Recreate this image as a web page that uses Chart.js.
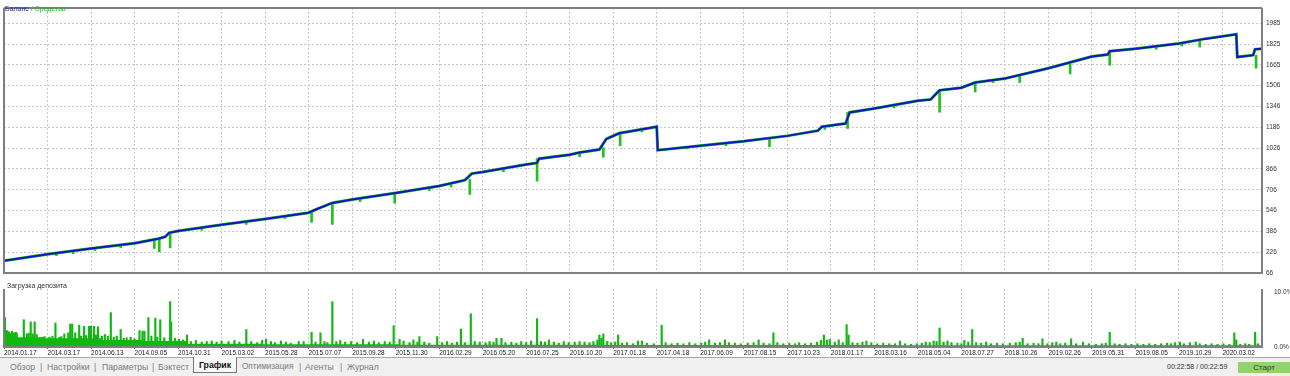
<!DOCTYPE html>
<html>
<head>
<meta charset="utf-8">
<title>Баланс / Средства</title>
<script src="https://cdn.jsdelivr.net/npm/chart.js@4.4.1/dist/chart.umd.min.js"></script>
<style>
  body { margin: 0; width: 1290px; height: 376px; background: #fff; position: relative; overflow: hidden;
         font-family: "Liberation Sans", Arial, sans-serif; }
  #balanceChart { position: absolute; left: 0; top: 0; }
  #loadChart { position: absolute; left: 0; top: 281px; }
  .caption { position: absolute; font-size: 7px; line-height: 8px; white-space: nowrap; }
  #tabs { position: absolute; left: 0; top: 357px; width: 1290px; height: 19px; background: #f0f0f0;
          border-top: 1px solid #a8a8a8; font-size: 8.7px; color: #7a7a7a; }
  #tabs span, #tabs div { position: absolute; top: 0; line-height: 18px; white-space: nowrap; }
  #tabs .active { top: -1px; height: 15px; line-height: 17px; width: 42px; text-align: center; background: #f8f8f8;
                  border: 1px solid #777; border-top: none; color: #111; font-weight: bold; }
  #tabs .clock { left: 1167px; font-size: 7px; color: #333; }
  #tabs .start { left: 1238px; top: 4px; width: 52px; height: 11px; line-height: 11px; text-align: center;
                 background: #92d46c; color: #333; font-size: 8px; }
</style>
</head>
<body>
<canvas id="balanceChart" width="1290" height="281"></canvas>
<canvas id="loadChart" width="1290" height="77"></canvas>
<div class="caption" style="left:5px;top:5px"><span style="color:#2525b8">Баланс</span><span style="color:#22b822"> / Средства</span></div>
<div class="caption" style="left:7px;top:282px;color:#333">Загрузка депозита</div>
<div id="tabs">
  <span style="left:10px">Обзор</span>
  <span style="left:40px">|</span>
  <span style="left:47px">Настройки</span>
  <span style="left:94px">|</span>
  <span style="left:102px">Параметры</span>
  <span style="left:152px">|</span>
  <span style="left:158px">Бэктест</span>
  <div class="active" style="left:193px">График</div>
  <span style="left:242px;font-size:8.2px">Оптимизация</span>
  <span style="left:299px">|</span>
  <span style="left:305px">Агенты</span>
  <span style="left:340px">|</span>
  <span style="left:347px">Журнал</span>
  <span class="clock">00:22:58 / 00:22:59</span>
  <div class="start">Старт</div>
</div>
<script>
// date labels under the chart, one every 44 deals
const dateLabels = ['2014.01.17', '2014.03.17', '2014.06.13', '2014.09.05', '2014.10.31', '2015.03.02',
  '2015.05.28', '2015.07.07', '2015.09.28', '2015.11.30', '2016.02.29', '2016.05.20', '2016.07.25',
  '2016.10.20', '2017.01.18', '2017.04.18', '2017.06.09', '2017.08.15', '2017.10.23', '2018.01.17',
  '2018.03.16', '2018.05.04', '2018.07.27', '2018.10.26', '2019.02.26', '2019.05.31', '2019.08.05',
  '2019.10.29', '2020.03.02'];
const dealsPerLabel = 44;
const lastDeal = 1272;

const balanceTicks = [66, 226, 386, 546, 706, 866, 1026, 1186, 1346, 1506, 1665, 1825, 1985];
const loadTicks = [0, 10];

// [deal, balance]
const balancePoints = [[0, 160], [44, 210], [88, 255], [132, 295], [156, 330], [163, 345], [167, 375],
  [176, 390], [220, 437], [264, 482], [308, 530], [317, 560], [332, 605], [352, 632], [396, 682],
  [440, 735], [466, 780], [473, 830], [484, 842], [528, 900], [539, 912], [541, 945], [572, 975],
  [582, 993], [602, 1015], [609, 1096], [622, 1140], [660, 1190], [661, 1010], [704, 1045],
  [748, 1078], [792, 1120], [823, 1160], [827, 1190], [851, 1215], [855, 1300], [880, 1330],
  [924, 1390], [937, 1400], [942, 1440], [946, 1470], [968, 1490], [982, 1530], [1012, 1560],
  [1056, 1640], [1100, 1730], [1116, 1745], [1118, 1770], [1144, 1790], [1188, 1830], [1214, 1865],
  [1246, 1900], [1247, 1725], [1263, 1740], [1265, 1785], [1272, 1790]];

// equity drops below balance: [deal, low, high]
const equityDips = [[53, 200, 215], [70, 215, 232], [92, 240, 258], [118, 262, 282], [152, 255, 320],
  [157, 230, 330], [168, 260, 378], [200, 395, 415], [245, 440, 470], [284, 485, 502], [311, 456, 535],
  [332, 440, 605], [360, 615, 640], [395, 603, 680], [430, 700, 728], [452, 728, 752], [471, 670, 785],
  [505, 845, 870], [539, 772, 945], [582, 960, 990], [606, 956, 1030], [623, 1044, 1135],
  [645, 1150, 1175], [690, 1020, 1036], [730, 1045, 1064], [774, 1037, 1095], [830, 1169, 1190],
  [853, 1177, 1300], [900, 1335, 1360], [946, 1302, 1470], [982, 1456, 1530], [1000, 1528, 1548],
  [1027, 1530, 1590], [1078, 1596, 1670], [1118, 1662, 1760], [1165, 1785, 1808], [1191, 1810, 1835],
  [1209, 1802, 1860], [1266, 1640, 1740]];

// deposit load, % : [deal, load]
const loadBars = [[1, 5.4], [3, 3.0], [5, 2.8], [8, 2.9], [10, 2.6], [12, 2.7], [20, 5.0], [23, 2.4],
  [25, 2.5], [27, 4.6], [29, 2.4], [31, 4.6], [33, 2.3], [39, 1.8], [41, 1.9], [46, 1.8], [49, 2.0],
  [52, 4.4], [56, 1.8], [58, 1.9], [61, 2.4], [65, 2.6], [67, 4.2], [69, 4.2], [72, 2.6], [76, 4.0],
  [78, 2.0], [81, 3.8], [83, 2.1], [86, 3.8], [88, 3.8], [91, 3.8], [93, 2.2], [95, 3.7], [99, 2.0],
  [102, 2.3], [105, 2.0], [108, 6.3], [111, 1.8], [114, 2.0], [118, 3.2], [121, 1.6], [124, 1.7],
  [128, 1.8], [132, 1.5], [137, 3.0], [140, 2.9], [142, 2.9], [146, 5.4], [149, 2.0], [153, 5.3],
  [155, 1.8], [158, 5.0], [162, 1.7], [168, 8.3], [169, 4.6], [173, 1.6], [177, 1.4], [181, 1.3],
  [185, 2.2], [189, 1.0], [194, 1.2], [200, 0.9], [205, 1.0], [210, 1.1], [215, 0.9], [220, 1.1],
  [227, 1.0], [233, 1.2], [238, 0.9], [245, 3.2], [250, 1.0], [256, 0.8], [261, 1.2], [265, 1.4],
  [270, 1.0], [274, 0.8], [280, 1.1], [285, 0.9], [290, 0.7], [298, 1.0], [303, 1.0], [311, 2.7],
  [315, 0.9], [320, 2.6], [324, 1.0], [327, 0.8], [332, 8.3], [336, 1.0], [340, 1.2], [345, 0.9],
  [351, 1.0], [357, 0.8], [363, 1.4], [369, 0.9], [374, 1.1], [379, 0.8], [385, 1.0], [390, 0.9],
  [394, 3.9], [400, 1.4], [404, 1.1], [410, 0.8], [414, 1.3], [418, 0.9], [420, 1.9], [425, 0.9],
  [430, 0.7], [438, 1.9], [443, 0.8], [448, 1.0], [453, 0.7], [458, 0.9], [462, 3.3], [466, 0.8],
  [472, 6.1], [476, 1.0], [481, 0.9], [487, 0.8], [491, 1.0], [495, 0.9], [498, 1.6], [503, 1.6],
  [507, 0.8], [513, 0.9], [518, 0.7], [523, 1.0], [528, 0.8], [533, 1.1], [539, 5.2], [543, 1.0],
  [547, 0.9], [551, 1.3], [556, 0.9], [561, 0.7], [566, 1.0], [571, 0.8], [577, 0.9], [582, 1.0],
  [587, 0.9], [592, 0.8], [596, 1.0], [600, 1.3], [602, 2.2], [604, 1.6], [606, 2.4], [610, 1.0],
  [614, 0.8], [618, 0.9], [621, 2.2], [625, 0.7], [630, 0.8], [636, 0.6], [641, 1.1], [645, 1.1],
  [650, 0.7], [657, 0.6], [665, 4.0], [669, 0.8], [675, 0.6], [681, 0.7], [687, 0.6], [693, 0.8],
  [699, 0.6], [705, 0.7], [709, 0.9], [713, 1.3], [719, 0.7], [724, 0.8], [729, 1.3], [733, 0.8],
  [739, 0.7], [745, 0.6], [752, 0.7], [758, 0.8], [763, 1.3], [768, 0.7], [774, 0.6], [778, 2.6],
  [782, 0.8], [788, 0.6], [794, 0.7], [800, 0.6], [804, 0.8], [810, 0.6], [816, 0.7], [822, 0.9],
  [826, 1.2], [829, 2.2], [832, 1.3], [835, 1.4], [840, 0.9], [844, 1.3], [848, 0.8], [852, 4.1],
  [854, 2.2], [858, 0.8], [863, 0.7], [868, 0.9], [872, 1.1], [877, 0.8], [883, 0.6], [889, 0.7],
  [895, 0.6], [901, 0.6], [906, 1.1], [911, 0.6], [917, 0.5], [923, 0.6], [928, 0.7], [932, 0.9],
  [936, 0.8], [940, 1.1], [943, 1.0], [946, 3.5], [950, 0.9], [954, 1.1], [958, 0.8], [964, 0.7],
  [968, 0.6], [971, 1.2], [975, 0.9], [979, 3.2], [983, 0.8], [988, 0.7], [993, 0.9], [998, 0.6],
  [1004, 0.7], [1010, 0.6], [1017, 0.7], [1023, 0.8], [1027, 0.9], [1030, 1.6], [1035, 0.6],
  [1041, 0.7], [1046, 0.6], [1050, 1.5], [1055, 0.6], [1060, 0.8], [1064, 0.9], [1068, 0.6],
  [1073, 0.7], [1079, 1.5], [1084, 0.6], [1091, 0.9], [1097, 0.6], [1104, 0.5], [1110, 0.6],
  [1114, 0.7], [1118, 2.7], [1123, 0.6], [1128, 0.5], [1134, 0.6], [1140, 0.5], [1146, 0.6],
  [1152, 0.5], [1158, 0.6], [1164, 0.5], [1170, 0.6], [1176, 0.7], [1180, 0.6], [1184, 0.8],
  [1189, 0.9], [1193, 0.6], [1199, 0.8], [1205, 0.9], [1209, 0.6], [1215, 0.5], [1221, 0.6],
  [1227, 0.5], [1233, 0.6], [1239, 0.5], [1244, 2.6], [1246, 1.3], [1250, 0.5], [1255, 0.6],
  [1259, 0.5], [1265, 2.7], [1268, 0.6]];

// solid floor of the load histogram: [deal, load]
const loadBase = [[0, 2.5], [14, 1.8], [40, 1.6], [100, 1.3], [140, 1.1], [185, 0.6], [260, 0.5],
  [400, 0.4], [600, 0.35], [900, 0.3], [1272, 0.3]];

const fontFamily = '"Liberation Sans", Arial, sans-serif';
const gridColor = '#c8c8c8';
const green = '#22c022';

const frame = {
  id: 'frame',
  afterDraw(chart, args, opts) {
    const { ctx, chartArea: a } = chart;
    ctx.save();
    ctx.strokeStyle = '#7f7f7f';
    ctx.lineWidth = 2;
    ctx.beginPath();
    if (opts.top) {
      ctx.moveTo(a.left, a.top);
      ctx.lineTo(a.right, a.top);
    }
    ctx.moveTo(a.left, a.top);
    ctx.lineTo(a.left, a.bottom);
    ctx.lineTo(a.right, a.bottom);
    ctx.lineTo(a.right, a.top);
    ctx.stroke();
    ctx.restore();
  }
};

function dealAxis(showLabels, height) {
  return {
    type: 'linear',
    min: 0,
    max: lastDeal,
    offset: false,
    afterBuildTicks: function(scale) {
      scale.ticks = dateLabels.map((d, i) => ({ value: i * dealsPerLabel }));
    },
    afterFit: function(scale) {
      scale.height = height;
    },
    ticks: {
      display: showLabels,
      autoSkip: false,
      maxRotation: 0,
      align: 'start',
      padding: 0,
      color: '#222',
      font: { family: fontFamily, size: 6.5 },
      callback: function(value, index) {
        return dateLabels[index];
      }
    },
    grid: { color: gridColor, offset: false, drawTicks: showLabels, tickLength: 2, tickColor: '#666' },
    border: { display: false, dash: [2, 2] }
  };
}

new Chart(document.getElementById('balanceChart'), {
  type: 'line',
  data: {
    datasets: [
      {
        label: 'Баланс',
        data: balancePoints.map(p => ({ x: p[0], y: p[1] })),
        borderColor: '#1414c4',
        borderWidth: 2,
        pointRadius: 0,
        order: 0
      },
      {
        type: 'bar',
        label: 'Средства',
        data: equityDips.map(p => ({ x: p[0], y: [p[1], p[2]] })),
        backgroundColor: green,
        barThickness: 2,
        order: 1
      },
      {
        label: 'Средства',
        data: balancePoints.map(p => ({ x: p[0], y: p[1] })),
        borderColor: green,
        borderWidth: 3,
        pointRadius: 0,
        order: 2
      }
    ]
  },
  options: {
    responsive: false,
    animation: false,
    devicePixelRatio: 1,
    layout: { padding: { left: 4, top: 2, right: 0, bottom: 0 } },
    plugins: { legend: { display: false }, tooltip: { enabled: false }, frame: { top: true } },
    scales: {
      x: dealAxis(false, 2),
      y: {
        type: 'linear',
        position: 'right',
        min: 66,
        max: 2103,
        afterBuildTicks: function(scale) {
          scale.ticks = balanceTicks.map(v => ({ value: v }));
        },
        afterFit: function(scale) {
          scale.width = 28;
        },
        ticks: {
          autoSkip: false,
          padding: 4,
          color: '#333',
          font: { family: fontFamily, size: 6.5 },
          callback: v => String(v)
        },
        grid: { color: gridColor, drawTicks: false },
        border: { display: false, dash: [2, 2] }
      }
    }
  },
  plugins: [frame]
});

new Chart(document.getElementById('loadChart'), {
  type: 'bar',
  data: {
    datasets: [
      {
        label: 'Загрузка депозита',
        data: loadBars.map(p => ({ x: p[0], y: p[1] })),
        backgroundColor: '#10b810',
        barThickness: 1.5,
        order: 0
      },
      {
        type: 'line',
        label: 'Загрузка депозита',
        data: loadBase.map(p => ({ x: p[0], y: p[1] })),
        stepped: true,
        fill: 'origin',
        backgroundColor: '#10b810',
        borderWidth: 0,
        pointRadius: 0,
        order: 1
      }
    ]
  },
  options: {
    responsive: false,
    animation: false,
    devicePixelRatio: 1,
    layout: { padding: { left: 4, top: 0, right: 0, bottom: 0 } },
    plugins: { legend: { display: false }, tooltip: { enabled: false }, frame: { top: false } },
    scales: {
      x: dealAxis(true, 11),
      y: {
        type: 'linear',
        position: 'right',
        min: 0,
        max: 10.65,
        afterBuildTicks: function(scale) {
          scale.ticks = loadTicks.map(v => ({ value: v }));
        },
        afterFit: function(scale) {
          scale.width = 28;
        },
        ticks: {
          autoSkip: false,
          padding: 4,
          color: '#333',
          font: { family: fontFamily, size: 6.5 },
          callback: v => v.toFixed(1) + '%'
        },
        grid: { display: false },
        border: { display: false }
      }
    }
  },
  plugins: [frame]
});
</script>
</body>
</html>
